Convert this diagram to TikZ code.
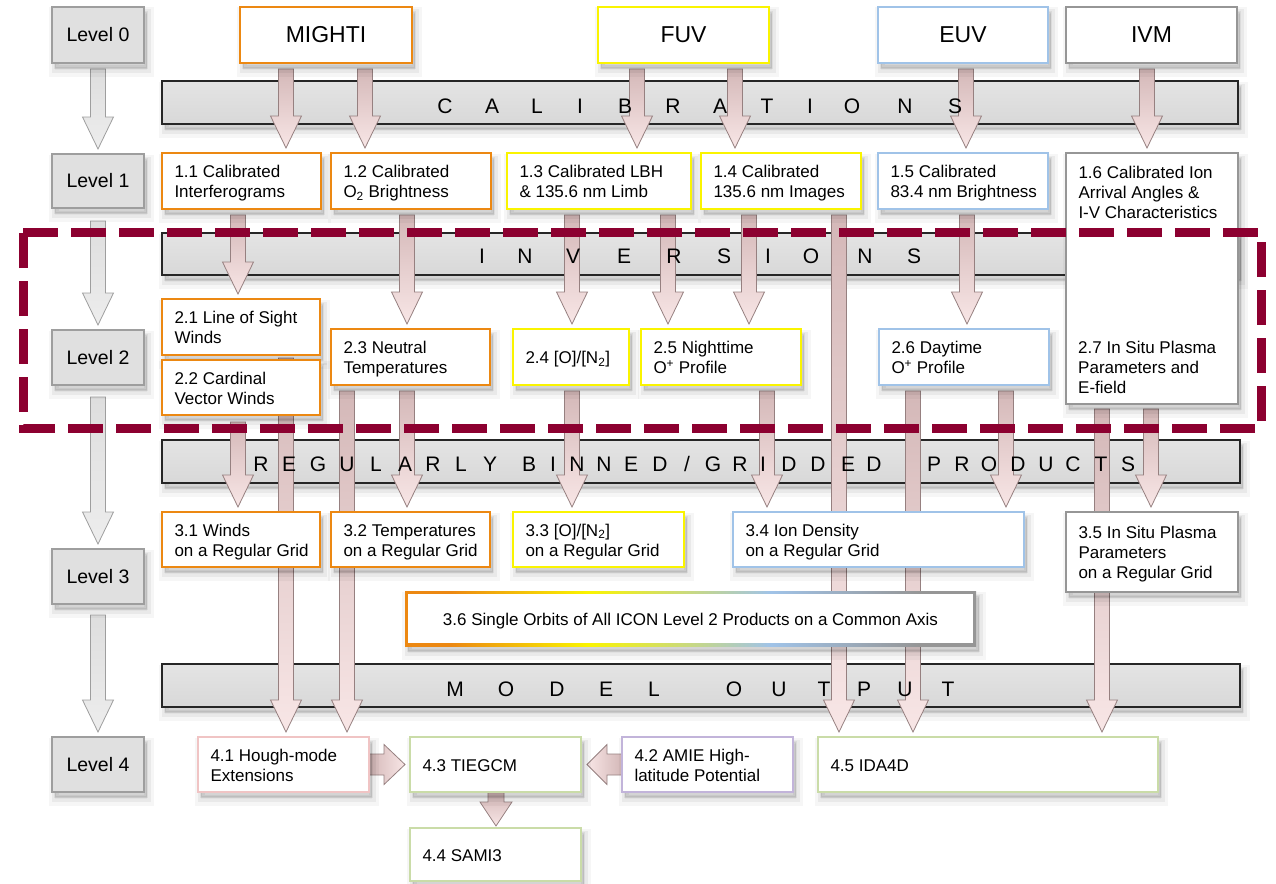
\documentclass[tikz,border=0pt]{standalone}
\usepackage{fontspec}
\setmainfont{Liberation Sans}
\usetikzlibrary{calc}

\definecolor{cOr}{RGB}{236,136,18}
\definecolor{cYe}{RGB}{250,244,0}
\definecolor{cBl}{RGB}{160,195,232}
\definecolor{cGr}{RGB}{150,150,150}
\definecolor{cPk}{RGB}{240,196,196}
\definecolor{cGn}{RGB}{202,220,168}
\definecolor{cLv}{RGB}{194,180,218}
\definecolor{cDash}{RGB}{140,0,48}
\definecolor{cArTop}{RGB}{212,184,184}
\definecolor{cArBot}{RGB}{248,230,230}
\definecolor{cArLine}{RGB}{150,128,128}
\definecolor{cLvFill}{RGB}{224,224,224}
\definecolor{cLvLine}{RGB}{158,158,158}
\definecolor{cBandTop}{RGB}{228,228,228}
\definecolor{cBandBot}{RGB}{216,216,216}

\pgfdeclarelayer{bandlayer}
\pgfdeclarelayer{arrowlayer}
\pgfdeclarelayer{toplayer}
\pgfsetlayers{bandlayer,arrowlayer,main,toplayer}

\pgfdeclarehorizontalshading{gradborder}{100bp}{color(0bp)=(cOr); color(29bp)=(cOr); color(41bp)=(cYe); color(57bp)=(cBl); color(70bp)=(cGr); color(100bp)=(cGr)}

\def\aw{7.5pt}\def\hw{15.5pt}\def\hl{32pt}\def\gapt{5pt}

% vertical block arrow: [style]{x}{from node}{to node}{start gap}
\newcommand\varr[5][pk]{%
  \path[#1] let \p1=(#3.south), \p2=(#4.north) in
  (#2pt-\aw,\y1-#5pt) -- (#2pt+\aw,\y1-#5pt) -- (#2pt+\aw,\y2+\gapt+\hl) --
  (#2pt+\hw,\y2+\gapt+\hl) -- (#2pt,\y2+\gapt) -- (#2pt-\hw,\y2+\gapt+\hl) --
  (#2pt-\aw,\y2+\gapt+\hl) -- cycle;}

% box node, text left-aligned: [style]{name}{x1}{y1}{x2}{y2}{text}
\newcommand\bx[7][]{%
  \pgfmathsetmacro\bxcx{(#3+#5)/2}%
  \pgfmathsetmacro\bxcy{(#4+#6)/2}%
  \pgfmathsetmacro\bxw{#5-#3}%
  \pgfmathsetmacro\bxh{#6-#4}%
  \pgfmathsetmacro\bxtw{#5-#3-25}%
  \node[#1,minimum width=\bxw pt,minimum height=\bxh pt] (#2) at (\bxcx,\bxcy)
    {\makebox[\bxtw pt][l]{\raisebox{-2.5pt}[\height][\depth]{\begin{tabular}{@{}l@{}}#7\end{tabular}}}};}
% box node, text centred
\newcommand\bxc[7][]{%
  \pgfmathsetmacro\bxcx{(#3+#5)/2}%
  \pgfmathsetmacro\bxcy{(#4+#6)/2}%
  \pgfmathsetmacro\bxw{#5-#3}%
  \pgfmathsetmacro\bxh{#6-#4}%
  \pgfmathsetmacro\bxtw{#5-#3-25}%
  \node[#1,minimum width=\bxw pt,minimum height=\bxh pt] (#2) at (\bxcx,\bxcy)
    {\makebox[\bxtw pt][c]{\raisebox{-2.5pt}[\height][\depth]{\begin{tabular}{@{}c@{}}#7\end{tabular}}}};}

\tikzset{
  shad/.style={
    preaction={fill=black,fill opacity=0.035,draw=black,draw opacity=0.035,line width=13pt,
      transform canvas={shift={(3pt,-7pt)}}},
    preaction={fill=black,fill opacity=0.05,draw=black,draw opacity=0.05,line width=7pt,
      transform canvas={shift={(3pt,-6pt)}}},
    preaction={fill=black,fill opacity=0.06,draw=black,draw opacity=0.06,line width=2pt,
      transform canvas={shift={(3pt,-5pt)}}}},
  bxbase/.style={draw,line width=2.8pt,fill=white,outer sep=0pt,inner xsep=12.5pt,inner ysep=0pt,
    font=\fontsize{17}{20}\selectfont,shad},
  orb/.style={bxbase,draw=cOr},
  yeb/.style={bxbase,draw=cYe},
  blb/.style={bxbase,draw=cBl},
  grb/.style={bxbase,draw=cGr},
  pkb/.style={bxbase,draw=cPk},
  gnb/.style={bxbase,draw=cGn},
  lvb/.style={bxbase,draw=cLv},
  inst/.style={bxbase,font=\fontsize{23}{26}\selectfont},
  lvl/.style={draw=cLvLine,line width=2pt,fill=cLvFill,outer sep=0pt,inner xsep=12.5pt,inner ysep=0pt,
    font=\fontsize{19.5}{22}\selectfont,shad},
  band/.style={draw=black!85,line width=1.3pt,top color=cBandTop,bottom color=cBandBot,outer sep=0pt,
    inner sep=0pt,shad},
  gradb/.style={bxbase,draw=none,shade,shading=gradborder,
    path picture={\fill[white] ([xshift=2.6pt,yshift=-2.6pt]path picture bounding box.north west)
      rectangle ([xshift=-2.6pt,yshift=2.6pt]path picture bounding box.south east);}},
  txtonly/.style={inner sep=0pt,align=left,font=\fontsize{17}{20}\selectfont},
  bandletter/.style={font=\fontsize{21}{21}\selectfont,anchor=base,inner sep=0pt},
  pk/.style={draw=cArLine,line width=0.8pt,top color=cArTop,bottom color=cArBot},
  gy/.style={draw=cLvLine,line width=0.8pt,top color=gray!26,bottom color=gray!14},
  pkr/.style={draw=cArLine,line width=0.8pt,left color=cArTop,right color=cArBot},
  pkl/.style={draw=cArLine,line width=0.8pt,left color=cArBot,right color=cArTop},
  dashrect/.style={draw=cDash,line width=9pt,dash pattern=on 35pt off 13pt},
}

\begin{document}
\begin{tikzpicture}[x=1pt,y=-1pt]
\useasboundingbox (0,0) rectangle (1276,883);

% ---------- bands ----------
\begin{pgfonlayer}{bandlayer}
\bxc[band]{cal}{162}{81}{1238}{124}{}
\bxc[band]{inv}{162}{233}{1238}{275}{}
\bxc[band]{reg}{162}{440}{1240}{483}{}
\bxc[band]{mod}{162}{664}{1240}{707}{}
\end{pgfonlayer}

% ---------- level boxes ----------
\bxc[lvl]{lv0}{52}{7}{144}{63}{Level 0}
\bxc[lvl]{lv1}{52}{154}{144}{208}{Level 1}
\bxc[lvl]{lv2}{52}{330}{144}{385}{Level 2}
\bxc[lvl]{lv3}{52}{549}{144}{604}{Level 3}
\bxc[lvl]{lv4}{52}{737}{144}{792}{Level 4}

% ---------- instruments ----------
\bxc[inst,draw=cOr]{mighti}{240}{7}{412}{63}{MIGHTI}
\bxc[inst,draw=cYe]{fuv}{598}{7}{769}{63}{FUV}
\bxc[inst,draw=cBl]{euv}{878}{7}{1048}{63}{EUV}
\bxc[inst,draw=cGr]{ivm}{1066}{7}{1237}{63}{IVM}

% ---------- level 1 ----------
\bx[orb]{l11}{162}{153}{321}{209}{1.1 Calibrated\\Interferograms}
\bx[orb]{l12}{331}{153}{491}{209}{1.2 Calibrated\\O\textsubscript{2} Brightness}
\bx[yeb]{l13}{507}{153}{691}{209}{1.3 Calibrated LBH\\\& 135.6 nm Limb}
\bx[yeb]{l14}{701}{153}{861}{209}{1.4 Calibrated\\135.6 nm Images}
\bx[blb]{l15}{878}{153}{1048}{209}{1.5 Calibrated\\83.4 nm Brightness}
\bx[grb]{l16}{1066}{153}{1238}{404}{1.6 Calibrated Ion\\Arrival Angles \&\\I-V Characteristics\\\rule{0pt}{168pt}}

% ---------- level 2 ----------
\bx[orb]{l21}{162}{299}{320}{355}{2.1 Line of Sight\\Winds}
\bx[orb]{l22}{162}{360}{320}{415}{2.2 Cardinal\\Vector Winds}
\bx[orb]{l23}{331}{329}{490}{385}{2.3 Neutral\\Temperatures}
\bx[yeb]{l24}{513}{329}{629}{385}{2.4 [O]/[N\textsubscript{2}]}
\bx[yeb]{l25}{641}{329}{801}{385}{2.5 Nighttime\\O\textsuperscript{+} Profile}
\bx[blb]{l26}{879}{329}{1049}{385}{2.6 Daytime\\O\textsuperscript{+} Profile}
\node[txtonly,anchor=west] (l27) at (1078,367) {2.7 In Situ Plasma\\Parameters and\\E-field};

% ---------- level 3 ----------
\bx[orb]{l31}{162}{512}{320}{567}{3.1 Winds\\on a Regular Grid}
\bx[orb]{l32}{331}{512}{490}{567}{3.2 Temperatures\\on a Regular Grid}
\bx[yeb]{l33}{513}{512}{684}{567}{3.3 [O]/[N\textsubscript{2}]\\on a Regular Grid}
\bx[blb]{l34}{733}{512}{1024}{567}{3.4 Ion Density\\on a Regular Grid}
\bx[grb]{l35}{1066}{512}{1238}{592}{3.5 In Situ Plasma\\Parameters\\on a Regular Grid}
\bxc[gradb]{l36}{405}{591}{976}{646}{3.6 Single Orbits of All ICON Level 2 Products on a Common Axis}

% ---------- level 4 ----------
\bx[pkb]{l41}{198}{737}{369}{792}{4.1 Hough-mode\\Extensions}
\bx[gnb]{l43}{410}{737}{581}{792}{4.3 TIEGCM}
\bx[lvb]{l42}{622}{737}{793}{792}{4.2 AMIE High-\\latitude Potential}
\bx[gnb]{l45}{818}{737}{1158}{792}{4.5 IDA4D}
\bx[gnb]{l44}{410}{828}{581}{881}{4.4 SAMI3}

% ---------- arrows ----------
\begin{pgfonlayer}{arrowlayer}
\varr[gy]{98}{lv0}{lv1}{6}
\varr[gy]{98}{lv1}{lv2}{13}
\varr[gy]{98}{lv2}{lv3}{12}
\varr[gy]{98}{lv3}{lv4}{11}

\varr{286}{mighti}{l11}{6}
\varr{365}{mighti}{l12}{6}
\varr{637}{fuv}{l13}{6}
\varr{735}{fuv}{l14}{6}
\varr{966}{euv}{l15}{6}
\varr{1147}{ivm}{l16}{6}

\varr{238}{l11}{l21}{6}
\varr{407}{l12}{l23}{6}
\varr{572}{l13}{l24}{6}
\varr{668}{l13}{l25}{6}
\varr{749}{l14}{l25}{6}
\varr{839}{l14}{l45}{6}
\varr{967}{l15}{l26}{6}

\varr{238}{l22}{l31}{7}
\varr{286}{l21}{l41}{3}
\varr{347}{l23}{l41}{6}
\varr{407}{l23}{l32}{6}
\varr{572}{l24}{l33}{6}
\varr{767}{l25}{l34}{6}
\varr{913}{l26}{l45}{6}
\varr{1006}{l26}{l34}{6}
\varr{1102}{l16}{l45}{5}
\varr{1151}{l16}{l35}{5}

\path[pkr] let \p1=(l41.east), \p2=(l43.west) in
  (\x1,\y1+10.5pt) -- (\x2-26pt,\y1+10.5pt) -- (\x2-26pt,\y1+20pt) -- (\x2-5pt,\y1) --
  (\x2-26pt,\y1-20pt) -- (\x2-26pt,\y1-10.5pt) -- (\x1,\y1-10.5pt) -- cycle;
\path[pkl] let \p1=(l42.west), \p2=(l43.east) in
  (\x1,\y1+10.5pt) -- (\x2+26pt,\y1+10.5pt) -- (\x2+26pt,\y1+20pt) -- (\x2+6pt,\y1) --
  (\x2+26pt,\y1-20pt) -- (\x2+26pt,\y1-10.5pt) -- (\x1,\y1-10.5pt) -- cycle;
{\def\aw{8pt}\def\hw{16pt}\def\hl{24pt}\def\gapt{2pt}\varr{496}{l43}{l44}{0}}
\end{pgfonlayer}

% ---------- band letters and dashed frame ----------
\begin{pgfonlayer}{toplayer}
\foreach \lx/\lc in {445/C,492/A,537/L,580/I,625/B,673/R,720/A,767/T,810/I,852/O,905/N,955/S}
  \node[bandletter] (cal-\lx) at (\lx,113) {\lc};
\foreach \lx/\lc in {482/I,525/N,573/V,624/E,674/R,724/S,768/I,811/O,865/N,914/S}
  \node[bandletter] (inv-\lx) at (\lx,263) {\lc};
\foreach \lx/\lc in {261/R,289/E,318/G,347/U,376/L,405/A,433/R,461/L,490/Y,
    529/B,553/I,577/N,604/N,631/E,660/D,687/\slash,713/G,740/R,763/I,789/D,818/D,848/E,874/D,
    934/P,962/R,989/O,1018/D,1046/U,1073/C,1101/T,1128/S}
  \node[bandletter] (reg-\lx) at (\lx,471) {\lc};
\foreach \lx/\lc in {455/M,506/O,557/D,606/E,654/L,734/O,779/U,824/T,864/P,905/U,948/T}
  \node[bandletter] (mod-\lx) at (\lx,696) {\lc};

\draw[dashrect] (23,232) -- (1261,232) -- (1261,428) -- (23,428) -- cycle;
\end{pgfonlayer}
\end{tikzpicture}
\end{document}
